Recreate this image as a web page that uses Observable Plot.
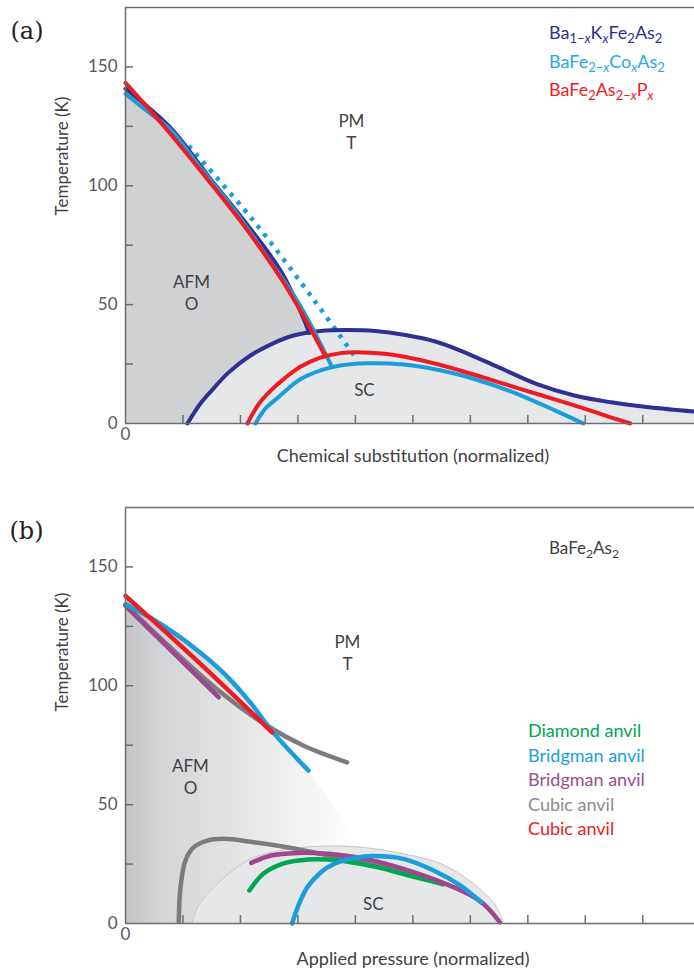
<!DOCTYPE html>
<html>
<head>
<meta charset="utf-8">
<script src="https://cdn.jsdelivr.net/npm/d3@7"></script>
<script src="https://cdn.jsdelivr.net/npm/@observablehq/plot@0.6"></script>
<style>
  html, body { margin: 0; padding: 0; background: #fff; }
  #chart { width: 694px; }
  #chart svg { display: block; }
</style>
</head>
<body>
<div id="chart"></div>
<script>
// ---------------- DATA (x in normalized tick units, T in K) ----------------
const xTicks = [1, 2, 3, 4, 5, 6, 7, 8, 9];
const yTicks = [25, 50, 75, 100, 125, 150];
const yLabels = [0, 50, 100, 150];
const xLabels = [0];

// Panel (a)
const kAfm = [[0,140.8],[0.783,124.4],[1.478,102.9],[2.157,82.4],[2.730,63.0],[3.2,38.1]];
const kSc = [[1.078,0],[1.304,8.4],[1.530,14.7],[1.791,21.4],[2.174,28.6],[2.522,33.2],[2.922,37.0],[3.391,38.9],[3.843,39.3],[4.348,38.9],[4.870,37.2],[5.391,34.5],[5.826,30.7],[6.487,23.7],[7.148,16.7],[7.809,11.8],[8.452,8.9],[9.113,6.8],[9.896,5.0]];
const coAfm = [[0,138.7],[0.435,130.3],[0.783,123.6],[1.304,107.6],[1.943,88.2],[2.487,69.3],[3.009,50.8],[3.595,23.7]];
const coStruct = [[1.101,116.8],[2.226,85.3],[3.287,51.7],[4.017,27.3]];
const coSc = [[2.261,0],[2.435,6.3],[2.661,11.1],[3.057,18.8],[3.597,23.7],[4.177,25.3],[4.835,24.8],[5.494,22.3],[6.153,18.1],[6.812,12.5],[7.470,5.5],[7.965,0]];
const pAfm = [[0,143.3],[0.725,123.5],[1.421,102.9],[2.087,82.4],[2.696,61.3],[3.101,45.0],[3.478,28.2]];
const pSc = [[2.122,0],[2.313,8.0],[2.530,13.9],[2.783,19.3],[3.043,23.9],[3.391,27.7],[3.739,29.6],[4.0,30.0],[4.504,29.3],[5.165,26.5],[5.826,22.3],[6.487,17.4],[7.148,12.5],[7.809,7.6],[8.4,2.9],[8.783,0]];
const legendA = [
  [["Ba"],["1−",1],["x",1,1],["K"],["x",1,1],["Fe"],["2",1],["As"],["2",1]],
  [["BaFe"],["2−",1],["x",1,1],["Co"],["x",1,1],["As"],["2",1]],
  [["BaFe"],["2",1],["As"],["2−",1],["x",1,1],["P"],["x",1,1]]
];
const regionA = [
  {label: "PM\nT", x: 3.93, T: 122.9},
  {label: "AFM\nO", x: 1.148, T: 55.5},
  {label: "SC", x: 4.157, T: 14.7}
];

// Panel (b)
const afmEdgeB = [[0,137.8],[0.435,128.6],[0.870,121.8],[1.304,113.9],[1.739,104.6],[2.174,92.9],[2.557,80.7],[3.183,64.3],[4.087,33.5]];
const scDomeB = [[1.160,0.4],[1.270,7.6],[1.536,15.3],[2.117,26.5],[2.696,30.7],[3.391,32.5],[4.087,32.1],[4.835,29.3],[5.494,25.1],[6.021,17.4],[6.417,8.3],[6.581,0.4]];
const cubicGrayAfm = [[0,134.0],[1.623,97.9],[2.464,83.2],[3.101,74.8],[3.855,67.8]];
const cubicRedAfm = [[0,137.8],[1.304,109.2],[2.551,80.4]];
const bridgBlueAfm = [[0,134.3],[0.435,128.6],[0.870,121.8],[1.304,113.9],[1.739,104.6],[2.174,92.9],[2.557,80.7],[3.183,64.3]];
const bridgPurpleAfm = [[0,133.6],[1.623,95.1]];
const cubicGraySc = [[0.927,0.8],[0.957,15.3],[1.043,26.5],[1.188,32.1],[1.421,34.9],[1.710,35.6],[2.231,34.2],[2.812,32.1],[3.391,29.3],[3.856,27.2],[4.177,25.8],[4.835,21.6],[5.527,16.4]];
const bridgPurpleSc = [[2.188,25.5],[2.530,28.6],[2.991,29.7],[3.518,29.3],[4.177,27.2],[4.835,23.0],[5.494,17.4],[6.153,9.7],[6.515,0.5]];
const diamondGreenSc = [[2.155,13.9],[2.398,20.9],[2.727,25.1],[3.188,26.9],[3.715,26.5],[4.374,23.7],[5.033,19.5],[5.494,16.9]];
const bridgBlueSc = [[2.899,0],[3.009,7.6],[3.160,15.1],[3.322,19.7],[3.508,23.5],[3.739,26.1],[3.970,27.6],[4.308,28.4],[4.835,27.2],[5.362,22.3],[5.823,16.0],[6.186,8.9]];
const legendB = [[["Diamond anvil"]],[["Bridgman anvil"]],[["Bridgman anvil"]],[["Cubic anvil"]],[["Cubic anvil"]]];
const titleB = [[["BaFe"],["2",1],["As"],["2",1]]];
const regionB = [
  {label: "PM\nT", x: 3.861, T: 114.1},
  {label: "AFM\nO", x: 1.130, T: 62.1},
  {label: "SC", x: 4.313, T: 8.8}
];

// ---------------- STYLE ----------------
const FONT = "Lato, 'Open Sans', 'DejaVu Sans', sans-serif";
const AXIS = "#6d6e71";
const TXT = "#414042";
const NAVY = "#2e3192", CYAN = "#1b9ddb", RED = "#ed1c24";
const GREEN = "#00a651", PURPLE = "#a0468e", GRAYL = "#7b7c7e";
const colorsA = [NAVY, "#27a9e1", RED];
const colorsB = [GREEN, "#1b9ddb", "#a24a8f", "#8a8b8d", RED];
const X = d => d[0], Y = d => d[1];

function richText(entries, colors, x0, y0, step, size) {
  return () => {
    const g = d3.create("svg:g")
      .attr("font-family", FONT).attr("font-size", size)
      .attr("text-anchor", "start");
    entries.forEach((parts, i) => {
      const t = g.append("text").attr("x", x0).attr("y", y0 + i * step)
        .attr("fill", colors[i]);
      let sub = false;
      for (const [s, isSub, it] of parts) {
        const ts = t.append("tspan").text(s);
        const sb = !!isSub;
        if (sb !== sub) ts.attr("dy", sb ? 4 : -4);
        if (sb) ts.attr("font-size", size * 0.72);
        if (it) ts.attr("font-style", "italic");
        sub = sb;
      }
    });
    return g.node();
  };
}

function frameAndAxes(lw) {
  return [
    Plot.ruleX([0], {stroke: AXIS, strokeWidth: lw}),
    Plot.ruleY([0], {stroke: AXIS, strokeWidth: lw}),
    Plot.ruleY([175], {stroke: AXIS, strokeWidth: lw}),
    Plot.axisY({ticks: yTicks, tickSize: 8, dx: 8, fill: "none", stroke: AXIS, strokeWidth: lw}),
    Plot.axisX({ticks: xTicks, tickSize: 8, dy: -8, fill: "none", stroke: AXIS, strokeWidth: lw}),
    Plot.axisY({ticks: yLabels, tickSize: 0, tickPadding: 8, label: null, fill: "#58595b", tickFormat: d => String(d)}),
    Plot.axisX({ticks: xLabels, tickSize: 0, tickPadding: 4, label: null, fill: "#58595b", tickFormat: d => String(d)})
  ];
}

const common = {
  width: 694, height: 488, marginLeft: 125, marginRight: 0,
  x: {domain: [0, 9.9]},
  y: {domain: [0, 175]},
  style: {fontFamily: FONT, fontSize: "17px", color: TXT, background: "#fff", overflow: "visible"}
};

// ---------------- PANEL (a) ----------------
const lwA = 4;
const plotA = Plot.plot({
  ...common,
  marginTop: 7, marginBottom: 65,
  marks: [
    Plot.areaY(kAfm, {x: X, y: Y, fill: "#d0d1d2", curve: "catmull-rom"}),
    Plot.areaY(kSc, {x: X, y: Y, fill: "#e6e7e8", curve: "catmull-rom"}),
    Plot.line(coStruct, {x: X, y: Y, stroke: CYAN, strokeWidth: 4.5, strokeDasharray: "4,6.5", strokeLinecap: "butt", curve: "catmull-rom"}),
    Plot.line(kSc, {x: X, y: Y, stroke: NAVY, strokeWidth: lwA, curve: "catmull-rom"}),
    Plot.line(kAfm, {x: X, y: Y, stroke: NAVY, strokeWidth: lwA, curve: "catmull-rom"}),
    Plot.line(coSc, {x: X, y: Y, stroke: CYAN, strokeWidth: lwA, curve: "catmull-rom"}),
    Plot.line(coAfm, {x: X, y: Y, stroke: CYAN, strokeWidth: lwA, curve: "catmull-rom"}),
    Plot.line(pSc, {x: X, y: Y, stroke: RED, strokeWidth: lwA, curve: "catmull-rom"}),
    Plot.line(pAfm, {x: X, y: Y, stroke: RED, strokeWidth: lwA, curve: "catmull-rom"}),
    ...frameAndAxes(1.5),
    Plot.text(regionA, {x: "x", y: "T", text: "label", fill: TXT, fontSize: 17, lineHeight: 1.3}),
    Plot.text(["Temperature (K)"], {frameAnchor: "left", dx: -63, rotate: -90, fill: TXT, fontSize: 17}),
    Plot.text(["Chemical substitution (normalized)"], {frameAnchor: "bottom", dx: 3, dy: 38, fill: TXT, fontSize: 18}),
    Plot.text(["(a)"], {frameAnchor: "top-left", dx: -115, dy: 14, textAnchor: "start", fontFamily: "'DejaVu Serif', serif", fontSize: 24, fill: "#231f20"}),
    richText(legendA, colorsA, 549, 39, 28.5, 18)
  ]
});

// ---------------- PANEL (b) ----------------
const lwB = 4.5;
const plotB = Plot.plot({
  ...common,
  marginTop: 19, marginBottom: 53,
  marks: [
    () => {
      const defs = d3.create("svg:defs");
      const lg = defs.append("linearGradient").attr("id", "afmGradB")
        .attr("x1", "0").attr("x2", "1").attr("y1", "0").attr("y2", "0");
      lg.append("stop").attr("offset", "0%").attr("stop-color", "#c3c4c5");
      lg.append("stop").attr("offset", "15%").attr("stop-color", "#d3d4d5");
      lg.append("stop").attr("offset", "100%").attr("stop-color", "#ffffff");
      return defs.node();
    },
    Plot.areaY(afmEdgeB, {x: X, y: Y, fill: "url(#afmGradB)", curve: "linear"}),
    Plot.areaY(scDomeB, {x: X, y: Y, fill: "#e6e7e8", curve: "catmull-rom"}),
    Plot.line(scDomeB, {x: X, y: Y, stroke: "#bcbec0", strokeWidth: 0.8, curve: "catmull-rom"}),
    Plot.line(cubicGrayAfm, {x: X, y: Y, stroke: GRAYL, strokeWidth: lwB, curve: "catmull-rom"}),
    Plot.line(bridgPurpleAfm, {x: X, y: Y, stroke: PURPLE, strokeWidth: lwB}),
    Plot.line(bridgBlueAfm, {x: X, y: Y, stroke: CYAN, strokeWidth: lwB, curve: "catmull-rom"}),
    Plot.line(cubicRedAfm, {x: X, y: Y, stroke: RED, strokeWidth: lwB, curve: "catmull-rom"}),
    Plot.line(cubicGraySc, {x: X, y: Y, stroke: GRAYL, strokeWidth: lwB, curve: "catmull-rom"}),
    Plot.line(diamondGreenSc, {x: X, y: Y, stroke: GREEN, strokeWidth: lwB, curve: "catmull-rom"}),
    Plot.line(bridgPurpleSc, {x: X, y: Y, stroke: PURPLE, strokeWidth: lwB, curve: "catmull-rom"}),
    Plot.line(bridgBlueSc, {x: X, y: Y, stroke: CYAN, strokeWidth: lwB, curve: "catmull-rom"}),
    ...frameAndAxes(1.5),
    Plot.text(regionB, {x: "x", y: "T", text: "label", fill: TXT, fontSize: 17, lineHeight: 1.3}),
    Plot.text(["Temperature (K)"], {frameAnchor: "left", dx: -63, dy: -4, rotate: -90, fill: TXT, fontSize: 17}),
    Plot.text(["Applied pressure (normalized)"], {frameAnchor: "bottom", dx: 3, dy: 41, fill: TXT, fontSize: 18}),
    Plot.text(["(b)"], {frameAnchor: "top-left", dx: -116, dy: 14, textAnchor: "start", fontFamily: "'DejaVu Serif', serif", fontSize: 24, fill: "#231f20"}),
    richText(titleB, [TXT], 549, 66, 0, 17),
    richText(legendB, colorsB, 528, 249, 24.5, 18)
  ]
});

const root = document.getElementById("chart");
root.appendChild(plotA);
root.appendChild(plotB);
</script>
</body>
</html>
